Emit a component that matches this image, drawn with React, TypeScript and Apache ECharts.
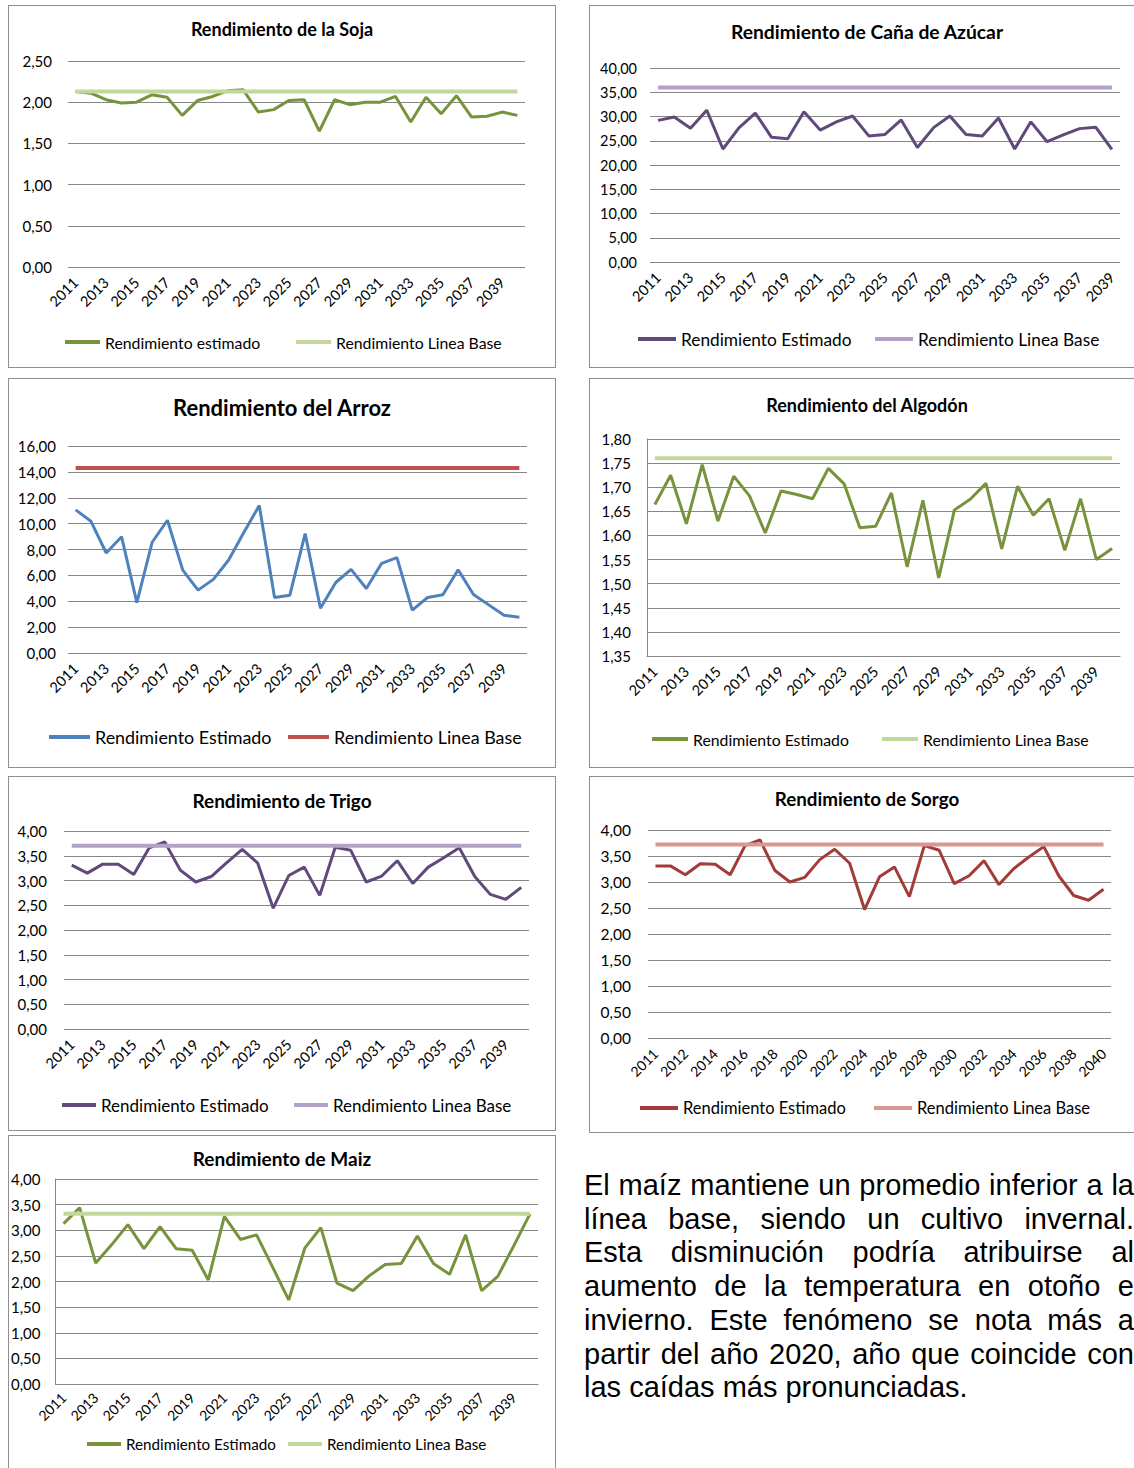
import React, { useEffect, useRef } from "react";
import * as echarts from "echarts";

const FONT = "Lato, 'Open Sans', sans-serif";

// ---------- categories ----------
const years2011to2040 = [
  "2011", "2012", "2013", "2014", "2015", "2016", "2017", "2018", "2019", "2020",
  "2021", "2022", "2023", "2024", "2025", "2026", "2027", "2028", "2029", "2030",
  "2031", "2032", "2033", "2034", "2035", "2036", "2037", "2038", "2039", "2040",
];
const years2011to2039 = [
  "2011", "2012", "2013", "2014", "2015", "2016", "2017", "2018", "2019", "2020",
  "2021", "2022", "2023", "2024", "2025", "2026", "2027", "2028", "2029", "2030",
  "2031", "2032", "2033", "2034", "2035", "2036", "2037", "2038", "2039",
];
const sorgoYears = [
  "2011", "2011", "2012", "2013", "2014", "2015", "2016", "2017", "2018", "2019", "2020",
  "2021", "2022", "2023", "2024", "2025", "2026", "2027", "2028", "2029", "2030",
  "2031", "2032", "2033", "2034", "2035", "2036", "2037", "2038", "2039", "2040",
];

// ---------- series values ----------
const sojaEstimado = [2.13, 2.11, 2.03, 1.99, 2.0, 2.09, 2.06, 1.84, 2.02, 2.07, 2.14, 2.15, 1.88, 1.91, 2.02, 2.03, 1.65, 2.03, 1.97, 2.0, 2.0, 2.07, 1.76, 2.06, 1.86, 2.08, 1.82, 1.83, 1.88, 1.84];
const sojaLineaBase = 2.13;

const canaEstimado = [29.2, 29.9, 27.6, 31.3, 23.3, 27.7, 30.7, 25.7, 25.4, 31.0, 27.2, 28.9, 30.1, 26.0, 26.3, 29.3, 23.6, 27.7, 30.1, 26.3, 26.0, 29.7, 23.3, 28.9, 24.8, 26.2, 27.5, 27.8, 23.2];
const canaLineaBase = 36.0;

const arrozEstimado = [11.06, 10.18, 7.73, 8.99, 3.9, 8.56, 10.26, 6.41, 4.86, 5.69, 7.19, 9.33, 11.4, 4.29, 4.47, 9.23, 3.46, 5.45, 6.46, 4.99, 6.93, 7.37, 3.31, 4.29, 4.5, 6.44, 4.52, 3.72, 2.92, 2.77];
const arrozLineaBase = 14.3;

const algodonEstimado = [1.664, 1.725, 1.624, 1.747, 1.63, 1.723, 1.682, 1.605, 1.692, 1.685, 1.676, 1.739, 1.707, 1.616, 1.619, 1.688, 1.535, 1.673, 1.512, 1.653, 1.675, 1.708, 1.572, 1.702, 1.642, 1.676, 1.569, 1.676, 1.55, 1.573];
const algodonLineaBase = 1.76;

const trigoEstimado = [3.31, 3.15, 3.33, 3.33, 3.12, 3.66, 3.78, 3.21, 2.97, 3.08, 3.36, 3.63, 3.35, 2.44, 3.1, 3.27, 2.7, 3.67, 3.61, 2.97, 3.09, 3.4, 2.94, 3.27, 3.46, 3.66, 3.08, 2.72, 2.62, 2.86];
const trigoLineaBase = 3.7;

const sorgoEstimado = [3.31, 3.31, 3.14, 3.35, 3.34, 3.14, 3.7, 3.81, 3.22, 3.0, 3.09, 3.43, 3.63, 3.36, 2.47, 3.1, 3.29, 2.72, 3.7, 3.61, 2.97, 3.12, 3.41, 2.95, 3.26, 3.48, 3.68, 3.12, 2.74, 2.65, 2.86];
const sorgoLineaBase = 3.72;

const maizEstimado = [3.13, 3.44, 2.36, 2.72, 3.11, 2.64, 3.07, 2.64, 2.61, 2.03, 3.27, 2.82, 2.91, 2.28, 1.64, 2.65, 3.05, 1.97, 1.82, 2.11, 2.33, 2.35, 2.89, 2.35, 2.14, 2.91, 1.82, 2.1, 2.7, 3.32];
const maizLineaBase = 3.32;

const paragraphLines = [
  "El maíz mantiene un promedio inferior a la",
  "línea base, siendo un cultivo invernal.",
  "Esta disminución podría atribuirse al",
  "aumento de la temperatura en otoño e",
  "invierno. Este fenómeno se nota más a",
  "partir del año 2020, año que coincide con",
  "las caídas más pronunciadas.",
];

type Cfg = {
  box: { left: number; top: number; width: number; height: number };
  title: string; titleY: number; titleSize: number;
  grid: { left: number; top: number; width: number; height: number };
  yMin: number; yMax: number; yInterval: number; ySize: number; yMargin: number;
  axisLines: boolean;
  cats: string[]; xSize: number; xMargin: number;
  est: number[]; base: number; estName: string; baseName: string;
  estColor: string; baseColor: string;
  leg1: number; leg2: number; legY: number; legSize: number; legW: number;
};

const GRID_COLOR = "#868686";

function buildOption(c: Cfg) {
  const fmt = (v: number) => v.toFixed(2).replace(".", ",");
  const baseData = new Array(c.est.length).fill(c.base);
  const legendCommon = (name: string, left: number) => ({
    data: [name],
    left,
    top: c.legY - (c.legSize + 2) / 2,
    padding: 0,
    icon: "rect",
    itemWidth: c.legW,
    itemHeight: 4,
    itemGap: 0,
    textStyle: { fontFamily: FONT, fontSize: c.legSize, color: "#000", lineHeight: c.legSize + 2 },
  });
  return {
    animation: false,
    textStyle: { fontFamily: FONT },
    title: {
      text: c.title,
      left: "center",
      top: c.titleY - (c.titleSize * 1.2) / 2,
      padding: 0,
      textStyle: { fontFamily: FONT, fontWeight: "bold", fontSize: c.titleSize, color: "#000", lineHeight: c.titleSize * 1.2 },
    },
    grid: { ...c.grid, containLabel: false },
    xAxis: {
      type: "category",
      data: c.cats,
      boundaryGap: true,
      axisTick: { show: false },
      axisLine: { show: c.axisLines, lineStyle: { color: GRID_COLOR, width: 1 } },
      axisLabel: { interval: 1, rotate: 45, margin: c.xMargin, fontSize: c.xSize, color: "#000", fontFamily: FONT },
      splitLine: { show: false },
    },
    yAxis: {
      type: "value",
      min: c.yMin,
      max: c.yMax,
      interval: c.yInterval,
      axisLine: { show: c.axisLines, lineStyle: { color: GRID_COLOR, width: 1 } },
      axisTick: { show: false },
      splitLine: { show: true, lineStyle: { color: GRID_COLOR, width: 1 } },
      axisLabel: { formatter: fmt, fontSize: c.ySize, margin: c.yMargin, color: "#000", fontFamily: FONT },
    },
    legend: [legendCommon(c.estName, c.leg1), legendCommon(c.baseName, c.leg2)],
    series: [
      {
        type: "line", name: c.estName, data: c.est, symbol: "none", showSymbol: false, z: 3,
        lineStyle: { width: 3, color: c.estColor }, itemStyle: { color: c.estColor },
      },
      {
        type: "line", name: c.baseName, data: baseData, symbol: "none", showSymbol: false, z: 4,
        lineStyle: { width: 4, color: c.baseColor }, itemStyle: { color: c.baseColor },
      },
    ],
  };
}

const charts: Cfg[] = [
  {
    box: { left: 8, top: 5, width: 548, height: 363 },
    title: "Rendimiento de la Soja", titleY: 24, titleSize: 18,
    grid: { left: 60, top: 56, width: 457, height: 206 },
    yMin: 0, yMax: 2.5, yInterval: 0.5, ySize: 15, yMargin: 16, axisLines: false,
    cats: years2011to2040, xSize: 14.5, xMargin: 13,
    est: sojaEstimado, base: sojaLineaBase, estName: "Rendimiento estimado", baseName: "Rendimiento Linea Base",
    estColor: "#77933C", baseColor: "#C3D69B",
    leg1: 57, leg2: 288, legY: 337, legSize: 15.8, legW: 35,
  },
  {
    box: { left: 589, top: 5, width: 556, height: 363 },
    title: "Rendimiento de Caña de Azúcar", titleY: 27, titleSize: 19.3,
    grid: { left: 61, top: 63, width: 470, height: 194 },
    yMin: 0, yMax: 40, yInterval: 5, ySize: 14.5, yMargin: 13, axisLines: false,
    cats: years2011to2039, xSize: 14.5, xMargin: 13,
    est: canaEstimado, base: canaLineaBase, estName: "Rendimiento Estimado", baseName: "Rendimiento Linea Base",
    estColor: "#604A7B", baseColor: "#B3A2C7",
    leg1: 49, leg2: 286, legY: 334, legSize: 17.3, legW: 38,
  },
  {
    box: { left: 8, top: 378, width: 548, height: 390 },
    title: "Rendimiento del Arroz", titleY: 29, titleSize: 22,
    grid: { left: 60, top: 68, width: 459, height: 207 },
    yMin: 0, yMax: 16, yInterval: 2, ySize: 15, yMargin: 12, axisLines: false,
    cats: years2011to2040, xSize: 14.5, xMargin: 13,
    est: arrozEstimado, base: arrozLineaBase, estName: "Rendimiento Estimado", baseName: "Rendimiento Linea Base",
    estColor: "#4F81BD", baseColor: "#C0504D",
    leg1: 41, leg2: 280, legY: 359, legSize: 17.9, legW: 41,
  },
  {
    box: { left: 589, top: 378, width: 556, height: 390 },
    title: "Rendimiento del Algodón", titleY: 27, titleSize: 18,
    grid: { left: 58, top: 61, width: 473, height: 217 },
    yMin: 1.35, yMax: 1.8, yInterval: 0.05, ySize: 15, yMargin: 16, axisLines: true,
    cats: years2011to2040, xSize: 14.5, xMargin: 13,
    est: algodonEstimado, base: algodonLineaBase, estName: "Rendimiento Estimado", baseName: "Rendimiento Linea Base",
    estColor: "#77933C", baseColor: "#C3D69B",
    leg1: 63, leg2: 293, legY: 361, legSize: 15.8, legW: 36,
  },
  {
    box: { left: 8, top: 776, width: 548, height: 355 },
    title: "Rendimiento de Trigo", titleY: 24, titleSize: 19,
    grid: { left: 56, top: 55, width: 465, height: 198 },
    yMin: 0, yMax: 4, yInterval: 0.5, ySize: 15, yMargin: 17, axisLines: false,
    cats: years2011to2040, xSize: 14.5, xMargin: 13,
    est: trigoEstimado, base: trigoLineaBase, estName: "Rendimiento Estimado", baseName: "Rendimiento Linea Base",
    estColor: "#604A7B", baseColor: "#B3A2C7",
    leg1: 54, leg2: 286, legY: 329, legSize: 17, legW: 34,
  },
  {
    box: { left: 589, top: 776, width: 556, height: 357 },
    title: "Rendimiento de Sorgo", titleY: 22, titleSize: 18.8,
    grid: { left: 59, top: 54, width: 463, height: 208 },
    yMin: 0, yMax: 4, yInterval: 0.5, ySize: 15.5, yMargin: 17, axisLines: false,
    cats: sorgoYears, xSize: 14, xMargin: 13,
    est: sorgoEstimado, base: sorgoLineaBase, estName: "Rendimiento Estimado", baseName: "Rendimiento Linea Base",
    estColor: "#A33B38", baseColor: "#D99694",
    leg1: 51, leg2: 285, legY: 332, legSize: 16.5, legW: 38,
  },
  {
    box: { left: 8, top: 1135, width: 548, height: 345 },
    title: "Rendimiento de Maiz", titleY: 23, titleSize: 19,
    grid: { left: 47, top: 44, width: 483, height: 205 },
    yMin: 0, yMax: 4, yInterval: 0.5, ySize: 15, yMargin: 15, axisLines: true,
    cats: years2011to2040, xSize: 14, xMargin: 11,
    est: maizEstimado, base: maizLineaBase, estName: "Rendimiento Estimado", baseName: "Rendimiento Linea Base",
    estColor: "#77933C", baseColor: "#C3D69B",
    leg1: 79, leg2: 280, legY: 309, legSize: 15.2, legW: 34,
  },
];

function ChartBox({ cfg }: { cfg: Cfg }) {
  const ref = useRef<HTMLDivElement>(null);
  useEffect(() => {
    if (!ref.current) return;
    const chart = echarts.init(ref.current, null, { renderer: "svg" });
    chart.setOption(buildOption(cfg) as any);
    return () => chart.dispose();
  }, [cfg]);
  const { left, top, width, height } = cfg.box;
  return (
    <div
      style={{
        position: "absolute", left, top, width, height,
        border: "1px solid #8f8f8f", boxSizing: "border-box", background: "#fff",
      }}
    >
      <div ref={ref} style={{ position: "absolute", left: -1, top: -1, width, height }} />
    </div>
  );
}

export default function App() {
  return (
    <div
      style={{
        position: "absolute", left: 0, top: 0, width: 1134, height: 1468,
        overflow: "hidden", background: "#fff",
      }}
    >
      {charts.map((c, i) => (
        <ChartBox key={i} cfg={c} />
      ))}
      <div
        style={{
          position: "absolute", left: 584, top: 1169, width: 550,
          fontFamily: "'Liberation Sans', Arial, sans-serif", fontSize: 29, lineHeight: "33.7px", color: "#000",
        }}
      >
        {paragraphLines.map((line, i) => (
          <div
            key={i}
            style={{
              textAlign: "justify",
              textAlignLast: i < paragraphLines.length - 1 ? "justify" : "left",
              whiteSpace: "nowrap",
            }}
          >
            {line}
          </div>
        ))}
      </div>
    </div>
  );
}
